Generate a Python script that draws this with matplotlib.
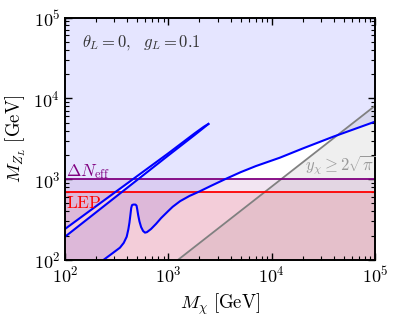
import numpy as np
import matplotlib
matplotlib.use("Agg")
import matplotlib.pyplot as plt

plt.rcParams["font.family"] = "serif"
plt.rcParams["font.serif"] = ["cmr10", "DejaVu Serif"]
plt.rcParams["mathtext.fontset"] = "cm"
plt.rcParams["axes.formatter.use_mathtext"] = True

# main relic curve (M_chi, M_ZL) in GeV
main_mx = [100, 200, 235, 280, 340, 370, 395, 410, 420, 430, 437, 445, 458, 480, 492, 500,
           510, 525, 545, 570, 594, 620, 680, 760, 850, 1000, 1100, 1300, 1600, 2000,
           2600, 3540, 5000, 7000, 12000, 20000, 39500, 100000]
main_mz = [40, 80, 100, 118, 142, 163, 194, 240, 290, 370, 440, 478, 485, 485, 470, 420,
           360, 300, 255, 228, 218, 221, 242, 280, 330, 405, 455, 535, 620, 705,
           830, 1000, 1220, 1450, 1845, 2400, 3360, 5150]

# thin sliver, two branches meeting at the tip
low_mx = [100, 300, 1000, 1800, 2200, 2440]
low_mz = [194, 586, 1968, 3530, 4330, 4820]
up_mx = [100, 300, 1000, 1800, 2200, 2440]
up_mz = [242, 678, 2094, 3700, 4450, 4820]

# perturbativity line y_chi >= 2 sqrt(pi)
pert_ratio = 0.081
pert_mx = [100, 100000]

dneff = 1000
lep = 690

fig = plt.figure(figsize=(3.99, 3.19), dpi=100)
ax = fig.add_axes([0.163, 0.185, 0.777, 0.76])

xmin, xmax, ymin, ymax = 1e2, 1e5, 1e2, 1e5

# excluded region above the blue curve (with sliver notch)
poly_x = [xmax, xmin] + up_mx + low_mx[::-1] + main_mx
poly_y = [ymax, ymax] + up_mz + low_mz[::-1] + main_mz
ax.fill(poly_x, poly_y, color="blue", alpha=0.1, lw=0)

# perturbativity region
px = np.array(pert_mx, dtype=float)
ax.fill_between(px, 1, px * pert_ratio, color="gray", alpha=0.12, lw=0)
ax.plot(px, px * pert_ratio, color="gray", lw=1.3)

# Delta N_eff and LEP
ax.fill_between([xmin, xmax], 1, dneff, color="purple", alpha=0.1, lw=0)
ax.axhline(dneff, color="purple", lw=1.3)
ax.fill_between([xmin, xmax], 1, lep, color="red", alpha=0.1, lw=0)
ax.axhline(lep, color="red", lw=1.3)

ax.plot(main_mx, main_mz, color="blue", lw=1.5)
ax.plot(low_mx, low_mz, color="blue", lw=1.5)
ax.plot(up_mx, up_mz, color="blue", lw=1.5)

ax.set_xscale("log")
ax.set_yscale("log")
ax.set_xlim(xmin, xmax)
ax.set_ylim(ymin, ymax)

ax.text(0.055, 0.935, r"$\theta_L=0,\ \ g_L=0.1$", transform=ax.transAxes,
        fontsize=12, color="#333333", va="top")
ax.text(1.02e2, 1.1e3, r"$\Delta N_{\rm eff}$", color="purple", fontsize=12.5)
ax.text(1.02e2, 6.4e2, r"${\rm LEP}$", color="red", fontsize=12.5, va="top")
ax.text(2.1e4, 1.3e3, r"$y_\chi \geq 2\sqrt{\pi}$", color="#999999", fontsize=12)

ax.set_xlabel(r"$M_\chi\ [{\rm GeV}]$", fontsize=13.5)
ax.set_ylabel(r"$M_{Z_L}\ [{\rm GeV}]$", fontsize=13.5)

ax.tick_params(which="both", direction="in", top=True, right=True, labelsize=13)
ax.tick_params(which="major", length=5, width=1)
ax.tick_params(which="minor", length=3, width=0.8)
for s in ax.spines.values():
    s.set_linewidth(1.4)

fig.savefig("out.png", dpi=100)
